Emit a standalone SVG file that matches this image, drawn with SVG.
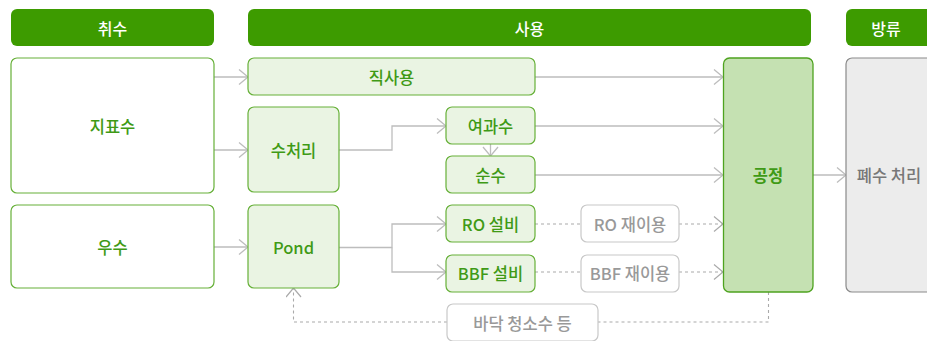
<svg xmlns="http://www.w3.org/2000/svg" width="927" height="341" viewBox="0 0 927 341">
<style>
text{font-family:"Noto Sans CJK KR","Noto Sans",sans-serif;font-size:16.5px;text-anchor:middle;dominant-baseline:central}
.hdr rect{fill:#3d9b00}
.hdr text{fill:#fff;font-weight:500;font-size:16px}
.src rect{fill:#fff;stroke:#66b038;stroke-width:1.2}
.grn rect{fill:#eaf4e3;stroke:#66b038;stroke-width:1.2}
.gt{fill:#3f9a16;font-weight:500}
.re rect{fill:#fff;stroke:#c8c8c8;stroke-width:1.2}
.re text{fill:#999;font-weight:500}
.ln{fill:none;stroke:#bdbdbd;stroke-width:1.3}
.dl{fill:none;stroke:#aaa;stroke-width:1.1;stroke-dasharray:3 3}
</style>
<defs>
<marker id="a" markerWidth="12" markerHeight="18" refX="10" refY="8" orient="auto" markerUnits="userSpaceOnUse"><path d="M1,0.5 L10,8 L1,15.5" fill="none" stroke="#bdbdbd" stroke-width="1.3"/></marker>
<marker id="d" markerWidth="12" markerHeight="18" refX="10" refY="8" orient="auto" markerUnits="userSpaceOnUse"><path d="M1,0.5 L10,8 L1,15.5" fill="none" stroke="#aaa" stroke-width="1.2"/></marker>
</defs>

<g id="h1" class="hdr"><rect x="11" y="9" width="203" height="37" rx="6"/><text x="112.5" y="27.5">취수</text></g>
<g id="h2" class="hdr"><rect x="248" y="9" width="563" height="37" rx="6"/><text x="529.5" y="27.5">사용</text></g>
<g id="h3" class="hdr"><rect x="846" y="9" width="90" height="37" rx="6"/><text x="886" y="27.5">방류</text></g>

<g id="connectors">
<path class="ln" d="M214,77 H248" marker-end="url(#a)"/>
<path class="ln" d="M214,150 H248" marker-end="url(#a)"/>
<path class="ln" d="M214,247 H248" marker-end="url(#a)"/>
<path class="ln" d="M535,77 H723" marker-end="url(#a)"/>
<path class="ln" d="M339,150 H392 V126 H446" marker-end="url(#a)"/>
<path class="ln" d="M490.5,144 V156" marker-end="url(#a)"/>
<path class="ln" d="M535,126 H723" marker-end="url(#a)"/>
<path class="ln" d="M535,175 H723" marker-end="url(#a)"/>
<path class="ln" d="M339,247.5 H392 V224 H446" marker-end="url(#a)"/>
<path class="ln" d="M392,247.5 V272 H446" marker-end="url(#a)"/>
<path class="ln" d="M813,175 H846" marker-end="url(#a)"/>
<path class="dl" d="M535,224 H581"/>
<path class="dl" d="M679,224 H723" marker-end="url(#d)"/>
<path class="dl" d="M535,272 H581"/>
<path class="dl" d="M679,272 H723" marker-end="url(#d)"/>
<path class="dl" d="M768.5,292 V322 H598"/>
<path class="dl" d="M447,322 H293.5 V288" marker-end="url(#d)"/>
</g>

<g id="n-surface" class="src"><rect x="11" y="58" width="203" height="135" rx="6"/><text class="gt" x="112.5" y="125.5">지표수</text></g>
<g id="n-rain" class="src"><rect x="11" y="205" width="203" height="83" rx="6"/><text class="gt" x="112.5" y="246.5">우수</text></g>
<g id="n-direct" class="grn"><rect x="248" y="58" width="287" height="37" rx="6"/><text class="gt" x="391.5" y="76.5">직사용</text></g>
<g id="n-treat" class="grn"><rect x="248" y="107" width="91" height="85" rx="6"/><text class="gt" x="293.5" y="150">수처리</text></g>
<g id="n-filter" class="grn"><rect x="446" y="107" width="89" height="37" rx="6"/><text class="gt" x="490.5" y="125.5">여과수</text></g>
<g id="n-pure" class="grn"><rect x="446" y="156" width="89" height="37" rx="6"/><text class="gt" x="490.5" y="174.5">순수</text></g>
<g id="n-pond" class="grn"><rect x="248" y="205" width="91" height="83" rx="6"/><text class="gt" x="293.5" y="247">Pond</text></g>
<g id="n-ro" class="grn"><rect x="446" y="205" width="89" height="37" rx="6"/><text class="gt" x="490.5" y="223.5">RO 설비</text></g>
<g id="n-bbf" class="grn"><rect x="446" y="255" width="89" height="37" rx="6"/><text class="gt" x="490.5" y="273">BBF 설비</text></g>
<g id="n-roreuse" class="re"><rect x="581" y="205" width="98" height="37" rx="6"/><text x="630" y="223.5">RO 재이용</text></g>
<g id="n-bbfreuse" class="re"><rect x="581" y="255" width="98" height="37" rx="6"/><text x="630" y="273">BBF 재이용</text></g>
<g id="n-clean" class="re"><rect x="447" y="304" width="151" height="37" rx="6"/><text x="522.5" y="322.5">바닥 청소수 등</text></g>
<g id="n-process"><rect x="723.5" y="58" width="89.5" height="234" rx="6" fill="#c5e1b2" stroke="#4ea31f" stroke-width="1.3"/><text class="gt" x="768" y="175" style="font-weight:600">공정</text></g>
<g id="n-waste"><rect x="846" y="58" width="95" height="234" rx="6" fill="#ececec" stroke="#8a8a8a" stroke-width="1.2"/><text x="889" y="175" style="fill:#777;font-weight:500">폐수 처리</text></g>
</svg>
